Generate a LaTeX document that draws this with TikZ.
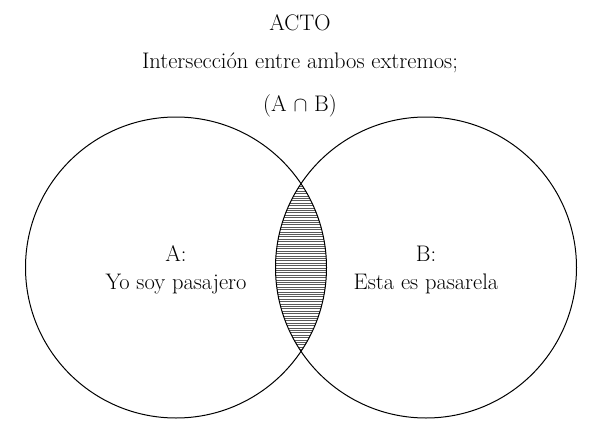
\documentclass[tikz,border=0pt]{standalone}
\begin{document}
\begin{tikzpicture}[x=1pt,y=-1pt,
  txt/.style={font=\fontsize{22.5}{26}\selectfont, anchor=base, inner sep=0pt},
  ring/.style={circle, draw=black, line width=1pt, minimum size=301pt, inner sep=0pt},
  hatch/.style={line width=0.7pt, draw=black!65}]
\useasboundingbox (0,0) rectangle (600,436);
% hatching of the intersection
\begin{scope}
  \clip (176,267.5) circle (150.5);
  \clip (426,267.5) circle (150.5);
  \foreach \yy in {184,186.4,...,354} {
    \draw[hatch] (260,\yy) -- (340,\yy);
  }
\end{scope}
\node[ring] (cA) at (176,267.5) {};
\node[ring] (cB) at (426,267.5) {};
\node[txt] (title) at (300,31) {ACTO};
\node[txt] (sub) at (300,69) {Intersección entre ambos extremos;};
\node[txt] (form) at (300,111) {(A~$\cap$~B)};
\node[txt] (la1) at (176,261) {A:};
\node[txt] (la2) at (176,289) {Yo soy pasajero};
\node[txt] (lb1) at (426,261) {B:};
\node[txt] (lb2) at (426,289) {Esta es pasarela};
\end{tikzpicture}
\end{document}
